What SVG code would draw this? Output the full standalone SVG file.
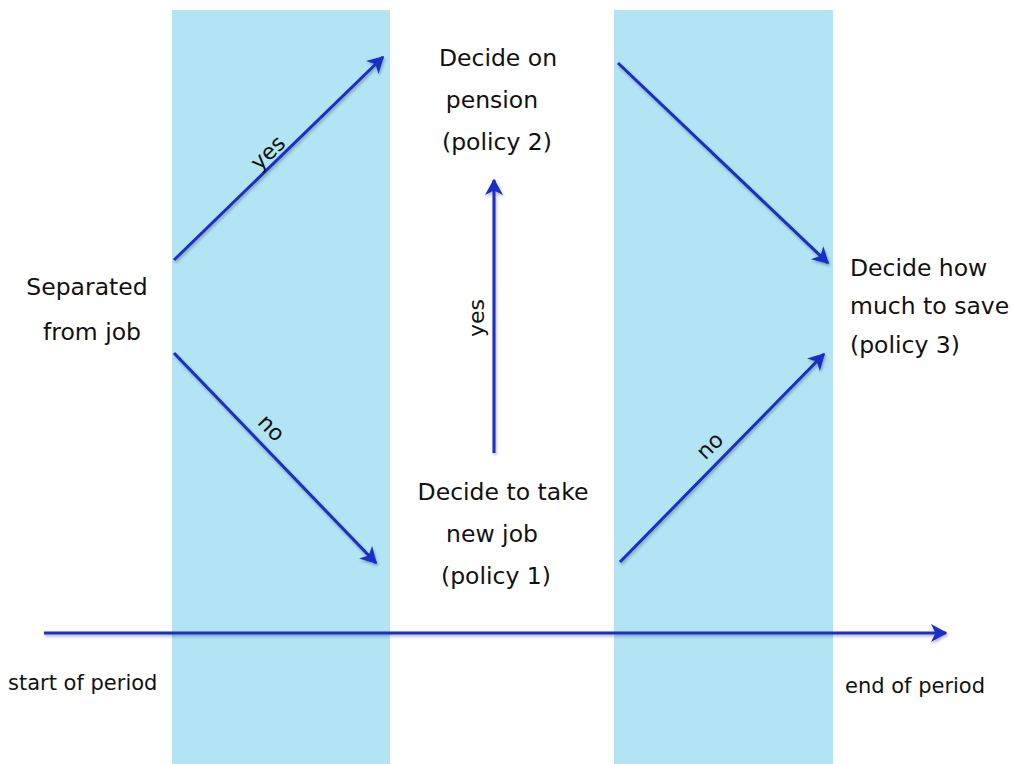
<svg xmlns="http://www.w3.org/2000/svg" width="1013" height="764" viewBox="0 0 1013 764">
<style>
.band{fill:#b2e4f4}
.c{stroke:#1a2dc8;stroke-width:3;fill:none;marker-end:url(#ah);filter:url(#sh)}
.t{font-family:"DejaVu Sans",sans-serif;font-size:23.5px;fill:#111}
.m{text-anchor:middle}
.s{font-family:"DejaVu Sans",sans-serif;font-size:21px;fill:#111}
.l{font-family:"DejaVu Sans",sans-serif;font-size:22px;fill:#111;text-anchor:middle}
</style>
<defs>
<marker id="ah" viewBox="0 0 12 12" refX="10" refY="6" markerWidth="6" markerHeight="6" orient="auto" markerUnits="strokeWidth">
<path d="M0,0 L11,6 L0,12 L3,6 Z" fill="#1a2dc8"/>
</marker>
<filter id="sh" filterUnits="userSpaceOnUse" x="0" y="0" width="1013" height="764">
<feDropShadow dx="1" dy="2" stdDeviation="1.5" flood-color="#000" flood-opacity="0.3"/>
</filter>
</defs>
<rect class="band" x="172" y="10" width="218" height="754"/>
<rect class="band" x="614" y="10" width="219" height="754"/>
<g id="connectors">
<line class="c" x1="174" y1="260" x2="383" y2="57"/>
<line class="c" x1="174" y1="353" x2="376" y2="563"/>
<line class="c" x1="494" y1="453" x2="494" y2="180"/>
<line class="c" x1="618" y1="63" x2="828" y2="263"/>
<line class="c" x1="620" y1="562" x2="824" y2="354"/>
<line class="c" x1="44" y1="633" x2="946" y2="633"/>
<text class="l" transform="translate(273,158) rotate(-44)">yes</text>
<text class="l" transform="translate(266,433) rotate(46)">no</text>
<text class="l" transform="translate(484,318) rotate(-90)">yes</text>
<text class="l" transform="translate(715,451) rotate(-45)">no</text>
</g>
<g id="n-separated">
<text class="t m" x="87" y="295">Separated</text>
<text class="t m" x="92" y="340">from job</text>
</g>
<g id="n-pension">
<text class="t m" x="498" y="66">Decide on</text>
<text class="t m" x="492" y="108">pension</text>
<text class="t m" x="497" y="150">(policy 2)</text>
</g>
<g id="n-newjob">
<text class="t m" x="503" y="500">Decide to take</text>
<text class="t m" x="492" y="542">new job</text>
<text class="t m" x="496" y="584">(policy 1)</text>
</g>
<g id="n-save">
<text class="t" x="850" y="276">Decide how</text>
<text class="t" x="850" y="314">much to save</text>
<text class="t" x="850" y="353">(policy 3)</text>
</g>
<g id="n-start">
<text class="s" x="8" y="690">start of period</text>
</g>
<g id="n-end">
<text class="s" x="845" y="693">end of period</text>
</g>
</svg>
